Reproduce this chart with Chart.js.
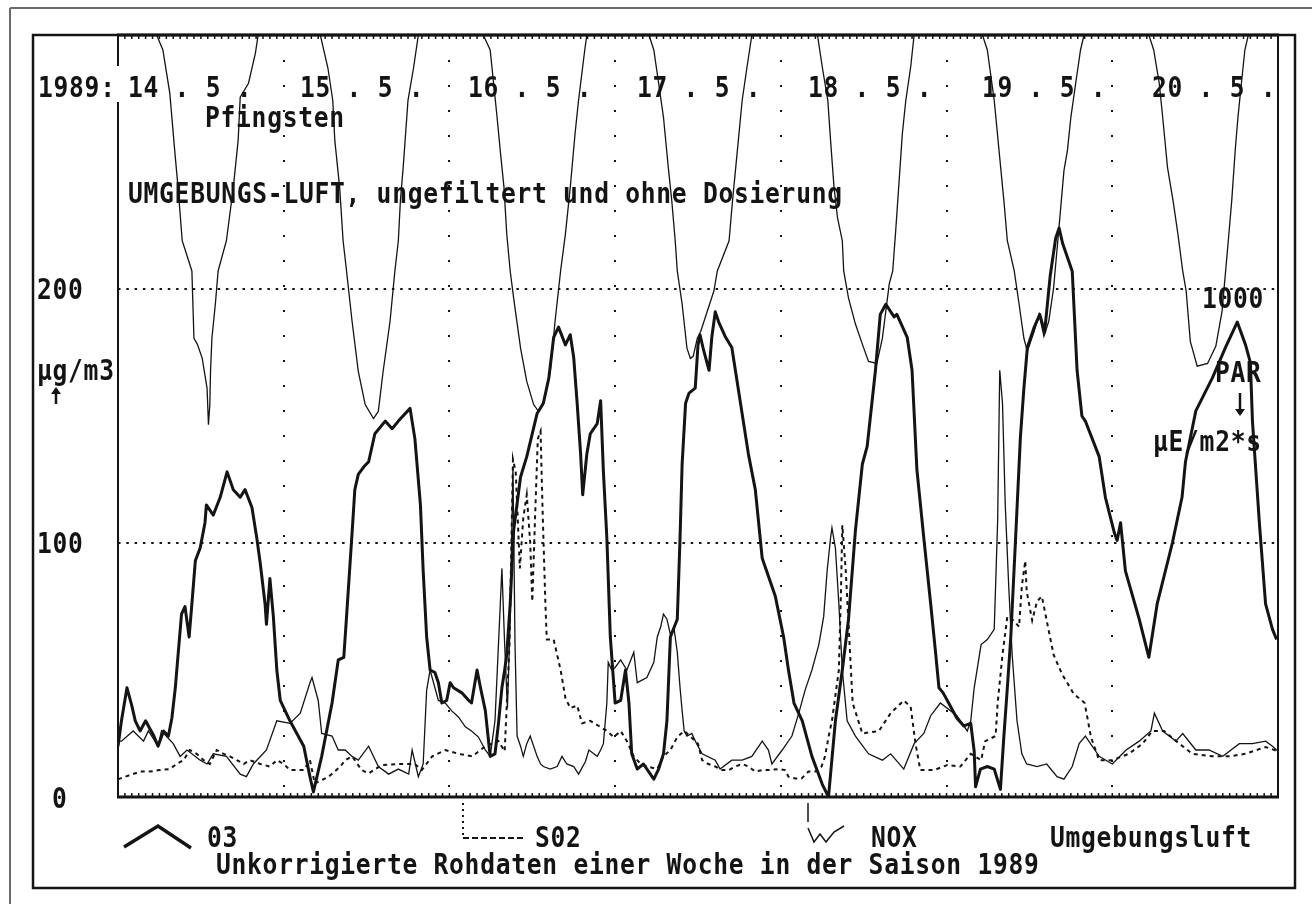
<!DOCTYPE html>
<html>
<head>
<meta charset="utf-8">
<script src="https://cdn.jsdelivr.net/npm/chart.js@4/dist/chart.umd.min.js"></script>
<style>
  html, body { margin: 0; padding: 0; background: #fff; }
  #wrap { width: 1312px; height: 904px; }
</style>
</head>
<body>
<div id="wrap"><canvas id="chart" width="1312" height="904"></canvas></div>
<script>
'use strict'

// hours since 14.5.1989 00:00
const dayStarts = [0, 24, 48, 72, 96, 120, 144, 168];
const dayLabels = ['14 . 5 .', '15 . 5 .', '16 . 5 .', '17 . 5 .', '18 . 5 .', '19 . 5 .', '20 . 5 .'];
const leftTicks = ['200', '100', '0'];

// O3, µg/m3
const o3Hours = [0, 0.5, 1.3, 2, 2.5, 3.2, 4, 4.6, 5.2, 5.8, 6.6, 7.3, 7.8, 8.3, 8.7, 9.2, 9.7, 10.3, 10.7, 11.2, 11.9, 12.6, 12.8, 13.8, 14.8, 15.8, 16.7, 17.7, 18.4, 19.4, 20.1, 20.6, 21.3, 21.5, 22, 22.5, 23, 23.5, 24.9, 25.9, 26.9, 27.8, 28.3,
	29.5, 31, 31.9, 32.7, 33.1, 33.9, 34.3, 34.8, 35.6, 36.3, 37.2, 38.7, 39.7, 40.6, 42.3, 43, 43.8, 44.2, 44.7, 45.2, 45.9, 46.4, 46.9, 47.6, 48.1, 48.6, 49.8, 50.8, 51.2, 52, 52.5, 53.2, 53.9, 54.6, 55.1, 55.6,
	56, 56.3, 56.8, 57.3, 58.3, 59.2, 60.7, 61.6, 62.4, 63.1, 63.8, 64.8, 65.5, 66, 66.5, 67, 67.3, 67.9, 68.4, 69.4, 69.9, 70.3, 70.8, 71.3, 72, 72.8, 73.5, 74, 74.4, 75.2, 76.1, 77.1, 77.6, 78.3, 79, 79.5,
	80, 81, 81.4, 81.7, 82.2, 82.7, 83.6, 84, 84.3, 84.8, 85.6, 86, 86.5, 87, 88, 88.9, 90.1, 91.3, 92.3, 93.3, 95.2, 96.4, 97.1, 97.9, 99.1, 100.5, 102, 102.9,
	103.9, 104.9, 105.8, 106.8, 107.8, 108.5, 109.7, 110.4, 111.2, 112.4, 112.8, 114.3, 115, 115.7, 116.7, 117.7, 118.4, 118.9, 119.5, 120.3, 121.5, 122.5, 123.5, 124, 124.2, 124.9, 125.9, 126.9, 127.8,
	128.3, 128.8, 129.3, 130, 130.7, 131.2, 131.7, 132.7, 133.5, 134.2, 135, 135.8, 136.3, 136.8, 138.2, 138.9, 139.6, 140.1, 142.1, 143, 144.3, 144.7, 145.2, 145.9, 147.9, 149.3,
	150.5, 152.7, 154.1, 154.6, 156.1, 158.5, 160.4, 162.1, 163.3, 164, 164.3, 165.3, 166.2, 167.2, 167.8];
const o3Values = [20, 30, 43, 36, 30, 26, 30, 27, 24, 20, 26, 24, 31, 43, 56, 72, 75, 63, 76, 93, 98, 108, 115, 111, 118, 128, 121, 118, 121, 114, 102, 92, 76, 68, 86, 71, 50, 38, 30, 25, 20, 8, 2,
	16, 37, 54, 55, 71, 104, 121, 127, 130, 132, 143, 148, 145, 148, 153, 141, 115, 89, 63, 50, 49, 45, 37, 38, 45, 43, 41, 38, 37, 50, 43, 34, 16, 17, 29, 43,
	50, 56, 76, 105, 126, 134, 151, 155, 165, 181, 185, 178, 182, 173, 155, 135, 119, 135, 143, 147, 156, 128, 102, 63, 37, 38, 50, 37, 17, 11, 13, 9, 7, 11, 17, 30,
	63, 70, 102, 131, 155, 159, 161, 178, 182, 176, 168, 181, 191, 187, 181, 177, 156, 135, 121, 94, 79, 63, 50, 37, 30, 16, 5, 0,
	30, 50, 70, 105, 131, 138, 168, 190, 194, 189, 190, 181, 168, 129, 102, 76, 57, 43, 41, 37, 31, 28, 29, 18, 4, 11, 12, 11, 3,
	24, 43, 63, 102, 142, 161, 177, 185, 190, 183, 205, 220, 224, 218, 207, 168, 150, 148, 134, 118, 104, 101, 108, 89, 70, 55,
	76, 100, 118, 132, 152, 165, 177, 187, 178, 171, 148, 108, 76, 66, 62];

// SO2, µg/m3
const so2Hours = [0, 1.7, 3.2, 4.6, 6, 7.5, 8.5, 9.5, 10.4, 11.4, 12.4, 13.3, 14.3, 15.3, 16.2, 17.2, 18.2, 19.1, 20.6, 22, 23, 24, 24.9, 25.9, 26.9, 27.8, 28.5,
	30.5, 32.2, 32.9, 33.9, 35.3, 36.3, 38.2, 41.1, 43, 44, 45.5, 47.4, 49.3, 51.3, 53.2, 54.2, 55.1, 56, 56.7, 57.2, 57.6, 58.2, 58.7, 59.2, 59.7, 60, 60.4, 60.8, 61.2, 61.5, 61.9, 62.1,
	63.1, 64.1, 64.8, 65.5, 66.5, 67.2, 68.4, 69.9, 70.8, 71.8, 72.8, 73.7, 74.7, 75.7, 76.6, 78.1, 79, 80, 81, 82, 83, 84, 84.6, 85.5, 86.5, 87.5, 88.5, 89.4, 90.4, 91.3, 92.3, 93.3, 94.2, 95.7, 96.6, 97.1, 98.1, 99, 100, 101,
	101.9, 102.4, 102.9, 103.4, 103.9, 104.4, 104.7, 104.9, 105.4, 105.9, 106.4, 107.8, 110.2, 111.9, 113.8, 114.8, 115.5, 116.2, 118.2, 120.1, 122, 123.5, 125, 125.6, 127.1, 127.4, 128.1, 128.8, 129.7, 130.5,
	130.9, 131.4, 131.6, 132.4, 133.1, 133.8, 134.5, 135.5, 136.7, 138.4, 140, 140.9, 142.1, 144, 146.4, 148.4, 149.8, 151.5, 153.7, 155.6, 158.5, 160.9, 163.3, 166.2, 168];
const so2Values = [7, 8.6, 10, 10, 10.6, 11, 13, 14.5, 18.5, 17, 14.5, 13, 18.5, 17, 16, 14.5, 13, 14.5, 13, 12, 14.5, 13, 10.6, 10.6, 10.6, 14.5, 5.3,
	8, 12, 14.5, 16, 10.6, 9.3, 12.6, 13, 13, 10.6, 16, 18.5, 17, 16, 20, 21, 22, 18, 60, 133, 128, 90, 110, 119, 100, 77, 110, 141, 144, 112, 76, 62,
	62, 50, 39, 35, 36, 29, 30, 27.5, 26, 23.6, 26, 22, 16, 13, 12, 11, 16, 18.5, 23.6, 26, 23.6, 21, 14.5, 13, 12, 10.6, 10.6, 12, 13, 12, 10, 10.6, 10.6, 11, 10.6, 8, 7.3, 7.3, 10, 10,
	12, 16, 23.6, 30, 40, 50, 80, 107, 89, 63, 37, 25, 26, 33, 38, 35.5, 21, 10.6, 10.6, 12.6, 12, 17, 14.5, 22, 24, 37, 56, 71, 69.5, 67,
	83, 93, 81, 69.5, 77, 79, 69.5, 56, 48.5, 40.7, 37, 23.7, 14.5, 14.5, 17, 21, 26, 26, 21, 17, 16, 16, 17, 19.7, 18];

// NOX, µg/m3
const noxHours = [0, 0.5, 2.2, 3.7, 4.4, 5.8, 6.3, 8, 9, 10, 11.9, 12.9, 13.8, 15.7, 17.7, 18.6, 19.6, 21.5, 23, 24.9, 26.4, 27.8, 28.1, 29, 29.5,
	31, 31.9, 32.9, 33.9, 34.8, 36.3, 37.7, 39.2, 40.6, 42.1, 42.6, 43.5, 44.2, 44.7, 45.2, 46.4, 47.4, 48.3, 49.3, 50.3, 51.2, 52.2, 53.2, 53.9,
	54.6, 55.1, 55.6, 56, 56.4, 56.8, 57.2, 57.5, 57.8, 58.3, 58.7, 59.2, 59.7, 60.2, 60.7, 61.2, 61.6, 62.6, 63.6, 64.3, 65, 66, 66.7, 67.7, 68.2, 69.4, 69.9, 70.3, 70.8, 71,
	71.5, 72, 72.8, 73.7, 74.7, 75.2, 76.6, 77.6, 78.1, 78.6, 79, 79.5, 80, 80.5, 81, 81.4, 81.7, 82, 82.4, 83.1, 83.8, 84.6, 86.5, 87.2, 88.9, 90.4, 91.8, 93.3, 94.2, 94.7,
	96.2, 97.6, 98.6, 99.5, 100.5, 101.5, 102.2, 102.7, 103.2, 103.4, 103.9, 104.4, 104.9, 105.6, 106.8, 108.7, 110.7, 111.9, 113.8, 115.3, 116.7, 117.7, 119.1, 121.5, 123, 123.5, 124, 125, 125.9, 126.9,
	127.1, 127.4, 127.7, 128.1, 128.5, 129, 129.5, 130.2, 130.9, 131.6, 133.1, 134.5, 136, 137, 138.2, 139.2, 140.1, 142.1, 144, 146, 147.9, 149.6, 150.1, 151.3, 153.2, 154.2, 156.1, 158, 160, 162.4, 164.3, 166.2, 167.2, 168];
const noxValues = [22, 22, 26, 22, 26, 20, 26, 21, 16, 18.5, 14.5, 13, 17, 16, 9, 8, 13, 18.5, 30, 29, 33, 45, 47, 38, 25,
	24, 18.5, 18.5, 16, 14.5, 20, 12, 9, 11, 9, 18.5, 8, 13, 42, 50, 38, 37, 34, 31.5, 27.6, 26, 23.6, 18.5, 16,
	30, 60, 90, 60, 35, 70, 130, 60, 24, 20, 16, 21, 24, 20, 16, 13, 12, 11, 12, 16, 13, 12, 9, 14, 18.5, 16, 18.5, 21, 37, 53,
	50, 51, 54, 50, 57, 45, 47, 53, 63, 67, 72, 70, 64, 67, 57, 43, 34, 26, 24, 25, 21, 17, 14.5, 11, 14.5, 14.5, 16, 22, 18.5, 13,
	18.5, 24, 33, 42, 50, 60, 71, 89, 102, 106, 98, 76, 50, 30, 24, 17, 14.5, 17, 11, 21, 25, 32, 37, 32, 26, 30, 43, 60, 62, 66,
	83, 109, 168, 155, 115, 83, 56, 30, 17, 13, 12, 13, 8, 7, 12, 21, 24, 16, 13, 18.5, 22, 26, 33, 26, 22, 25, 18.5, 18.5, 16, 21, 21, 22, 20, 18];

// PAR, µE/m2*s (plotted downward from the top edge)
const parHours = [0, 5.6, 6.5, 7.5, 8.3, 8.7, 9.3, 10.7, 11, 11.5, 12.2, 12.9, 13.1, 13.3, 13.4, 13.6, 14.1, 14.5, 15.7, 16.7, 17.4, 17.7, 18.9, 19.9, 20.3,
	29.3, 30.4, 31.1, 31.4, 32.1, 32.6, 33.1, 33.9, 34.8, 35.8, 37, 37.7, 38.4, 39.4, 40.1, 40.6, 40.9, 41.3, 42, 42.8, 43.5,
	52.9, 53.9, 54.4, 54.9, 55.4, 55.9, 56.3, 56.8, 57.3, 58.3, 59.2, 60.2, 60.9, 61.6, 62.6, 63.3, 64.1, 64.8, 65.5, 66.2, 66.7, 67.6, 67.9,
	76.9, 77.6, 78.3, 79, 79.7, 80.2, 80.7, 81, 81.7, 82.4, 82.9, 83.3, 83.9, 84.4, 86.3, 86.8, 88.5, 89, 89.7, 90.4, 91.1, 91.8,
	101.3, 102, 102.8, 103.2, 103.7, 104.2, 104.9, 105.1, 105.8, 106.8, 107.8, 108.7, 109.9, 110.7, 111.2, 111.7, 112.2, 112.6, 113.1, 113.6, 114.1, 114.8, 115.3,
	125.2, 125.9, 126.9, 127.6, 128.3, 128.8, 129.8, 130.5, 131.2, 131.7, 132.7, 133.4, 134.1, 134.8, 135.5, 136.2, 137, 137.5, 138, 138.7, 139.4, 139.9,
	149.3, 150, 150.8, 151.3, 152, 152.8, 153.5, 154.2, 154.7, 155.3, 156.3, 157.8, 159, 159.9, 160.8, 161.3, 161.8, 162.2, 162.7, 163.2, 163.7, 168];
const parValues = [0, 0, 59, 229, 482, 600, 810, 929, 1194, 1218, 1273, 1391, 1534, 1455, 1324, 1194, 1059, 929, 810, 600, 415, 245, 190, 71, 0,
	0, 130, 257, 415, 600, 810, 929, 1127, 1324, 1455, 1510, 1482, 1324, 1127, 929, 810, 652, 522, 257, 130, 0,
	0, 59, 190, 324, 466, 600, 783, 929, 1036, 1233, 1364, 1455, 1482, 1455, 1324, 1127, 929, 783, 600, 387, 257, 59, 0,
	0, 59, 190, 324, 522, 652, 810, 929, 1059, 1233, 1273, 1265, 1194, 1166, 1008, 929, 810, 652, 455, 257, 126, 0,
	0, 126, 257, 415, 600, 719, 810, 929, 1036, 1138, 1217, 1285, 1293, 1194, 1087, 980, 929, 783, 585, 387, 257, 126, 0,
	0, 59, 257, 455, 652, 810, 929, 1059, 1194, 1245, 1166, 1099, 1186, 1127, 996, 783, 534, 455, 324, 190, 59, 0,
	0, 59, 190, 324, 522, 652, 783, 929, 1008, 1206, 1304, 1293, 1225, 1087, 810, 652, 455, 324, 190, 59, 0, 0];

const ink = '#141414';
const font = "bold 28px 'DejaVu Sans Mono'";

const pts = (hs, vs) => hs.map((h, i) => ({ x: h, y: vs[i] }));

function seg(ctx, x1, y1, x2, y2, w) {
	ctx.lineWidth = w;
	ctx.beginPath();
	ctx.moveTo(x1, y1);
	ctx.lineTo(x2, y2);
	ctx.stroke();
}

function poly(ctx, p, w) {
	ctx.lineWidth = w;
	ctx.beginPath();
	ctx.moveTo(p[0][0], p[0][1]);
	for (let i = 1; i < p.length; i++) ctx.lineTo(p[i][0], p[i][1]);
	ctx.stroke();
}

// old printer font: narrow and tall, about 15.5px per character
function text(ctx, s, x, y) {
	ctx.save();
	ctx.translate(x, y);
	ctx.scale(0.88, 1);
	ctx.fillText(s, 0, 0);
	ctx.restore();
}

function arrow(ctx, x, y1, y2) {
	const d = y2 > y1 ? 1 : -1;
	seg(ctx, x, y1, x, y2 - d * 2, 2.5);
	ctx.beginPath();
	ctx.moveTo(x - 5, y2 - d * 7);
	ctx.lineTo(x + 5, y2 - d * 7);
	ctx.lineTo(x, y2);
	ctx.closePath();
	ctx.fill();
}

const sheet = {
	id: 'sheet',
	afterDraw(chart) {
		const { ctx, chartArea: a, scales: { x, y } } = chart;
		ctx.save();
		ctx.strokeStyle = ink;
		ctx.fillStyle = ink;
		ctx.lineCap = 'butt';

		// scan edges and page frame
		ctx.strokeStyle = '#6a6a6a';
		seg(ctx, 10, 8, 1312, 8, 2);
		seg(ctx, 10, 8, 10, 904, 2);
		ctx.strokeStyle = ink;
		ctx.lineWidth = 2.5;
		ctx.strokeRect(33, 35, 1262, 853);

		// plot box
		seg(ctx, a.left - 1, a.top, a.right + 1, a.top, 3);
		seg(ctx, a.left - 1, a.bottom, a.right + 1, a.bottom, 3);
		seg(ctx, a.left, a.top, a.left, a.bottom, 2);
		seg(ctx, a.right, a.top, a.right, a.bottom, 2);

		// hourly ticks, inward on top and bottom
		for (let h = 0; h <= 168; h++) {
			const px = x.getPixelForValue(h);
			seg(ctx, px, a.top, px, a.top + 4, 1.5);
			seg(ctx, px, a.bottom - 4, px, a.bottom, 1.5);
		}

		ctx.fillStyle = '#fff';
		ctx.fillRect(a.left - 3, 66, 6, 36);
		ctx.fillStyle = ink;

		ctx.font = font;
		ctx.letterSpacing = '0.8px';
		ctx.textAlign = 'left';
		ctx.textBaseline = 'alphabetic';

		// date row
		const labelX = [128, 300, 468, 637, 808, 982, 1152];
		text(ctx, '1989:', 38, 97);
		dayLabels.forEach((t, i) => text(ctx, t, labelX[i], 97));
		text(ctx, 'Pfingsten', 205, 127);
		text(ctx, 'UMGEBUNGS-LUFT, ungefiltert und ohne Dosierung', 128, 203);

		// left axis
		text(ctx, leftTicks[0], 37, y.getPixelForValue(200) + 10);
		text(ctx, leftTicks[1], 37, y.getPixelForValue(100) + 10);
		text(ctx, leftTicks[2], 52, y.getPixelForValue(0) + 11);
		text(ctx, 'µg/m3', 37, 380);
		arrow(ctx, 56, 404, 387);

		// right axis (PAR)
		text(ctx, '1000', 1202, 308);
		text(ctx, 'PAR', 1215, 382);
		arrow(ctx, 1240, 393, 416);
		text(ctx, 'µE/m2*s', 1153, 451);

		// legend
		ctx.lineJoin = 'miter';
		poly(ctx, [[124, 847], [158, 826], [191, 848]], 3.5);
		text(ctx, '03', 207, 847);

		ctx.setLineDash([2, 4]);
		seg(ctx, 463, 803, 463, 836, 2);
		ctx.setLineDash([6, 3]);
		seg(ctx, 463, 838, 524, 838, 2);
		ctx.setLineDash([]);
		text(ctx, 'S02', 535, 847);

		seg(ctx, 808, 803, 808, 822, 1.5);
		poly(ctx, [[808, 828], [814, 842], [820, 834], [826, 842], [834, 832], [844, 826]], 1.5);
		text(ctx, 'NOX', 871, 847);

		text(ctx, 'Umgebungsluft', 1050, 847);
		text(ctx, 'Unkorrigierte Rohdaten einer Woche in der Saison 1989', 216, 874);

		ctx.restore();
	},
};

const hidden = 'rgba(0,0,0,0)';

new Chart(document.getElementById('chart'), {
	type: 'line',
	data: {
		datasets: [
			{
				label: 'PAR',
				data: pts(parHours, parValues),
				yAxisID: 'par',
				borderColor: ink,
				borderWidth: 1.3,
				pointRadius: 0,
				tension: 0,
				order: 4,
			},
			{
				label: 'O3',
				data: pts(o3Hours, o3Values),
				yAxisID: 'y',
				borderColor: ink,
				borderWidth: 3,
				borderJoinStyle: 'round',
				pointRadius: 0,
				tension: 0,
				order: 1,
			},
			{
				label: 'SO2',
				data: pts(so2Hours, so2Values),
				yAxisID: 'y',
				borderColor: ink,
				borderWidth: 2,
				borderDash: [4, 4],
				pointRadius: 0,
				tension: 0,
				order: 3,
			},
			{
				label: 'NOX',
				data: pts(noxHours, noxValues),
				yAxisID: 'y',
				borderColor: ink,
				borderWidth: 1.3,
				pointRadius: 0,
				tension: 0,
				order: 2,
			},
		],
	},
	options: {
		responsive: false,
		animation: false,
		devicePixelRatio: 1,
		layout: { padding: { left: 118, right: 34, top: 35, bottom: 107 } },
		plugins: {
			legend: { display: false },
			tooltip: { enabled: false },
		},
		scales: {
			x: {
				type: 'linear',
				min: dayStarts[0],
				max: dayStarts[dayStarts.length - 1],
				afterBuildTicks: (s) => { s.ticks = dayStarts.map(v => ({ value: v })); },
				ticks: { display: false },
				border: { display: false, dash: [2, 23] },
				grid: {
					drawTicks: false,
					lineWidth: 2,
					color: (c) => (c.tick.value === 0 || c.tick.value === 168) ? hidden : ink,
				},
			},
			y: {
				type: 'linear',
				position: 'left',
				min: 0,
				max: 300,
				ticks: { display: false, stepSize: 100 },
				border: { display: false, dash: [2.5, 5.8] },
				grid: {
					drawTicks: false,
					lineWidth: 2,
					color: (c) => (c.tick.value === 100 || c.tick.value === 200) ? ink : hidden,
				},
			},
			par: {
				type: 'linear',
				position: 'right',
				display: false,
				min: 0,
				max: 3000,
				reverse: true,
			},
		},
	},
	plugins: [sheet],
});
</script>
</body>
</html>
